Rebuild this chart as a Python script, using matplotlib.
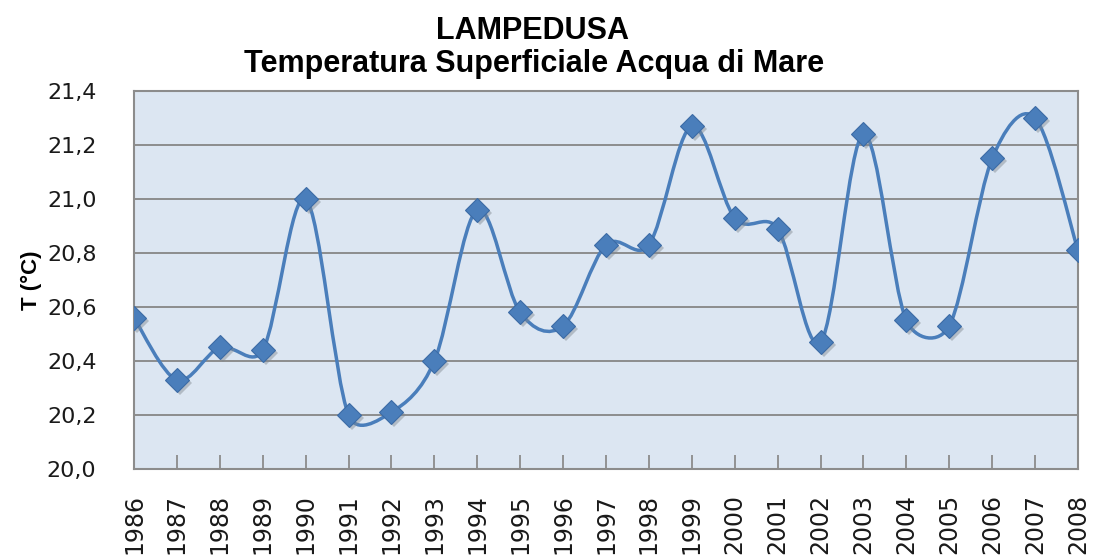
import matplotlib
matplotlib.use("Agg")
import matplotlib.pyplot as plt
from matplotlib.path import Path
from matplotlib.patches import PathPatch
import numpy as np

years = [str(y) for y in range(1986, 2009)]
temps = [20.56, 20.33, 20.45, 20.44, 21.00, 20.20, 20.21, 20.40, 20.96, 20.58,
         20.53, 20.83, 20.83, 21.27, 20.93, 20.89, 20.47, 21.24, 20.55, 20.53,
         21.15, 21.30, 20.81]
yticks = [20.0, 20.2, 20.4, 20.6, 20.8, 21.0, 21.2, 21.4]
ytick_labels = ["20,0", "20,2", "20,4", "20,6", "20,8", "21,0", "21,2", "21,4"]

W, H = 1094, 559
L, R, T, B = 134, 1078, 91, 469
fig = plt.figure(figsize=(W/100, H/100), dpi=100)
ax = fig.add_axes([L/W, 1-B/H, (R-L)/W, (B-T)/H])
ax.set_facecolor("#DCE6F2")

ymin, ymax = 20.0, 21.4
x = np.arange(len(temps), dtype=float)
y = np.array(temps)
n = len(x)

# Excel-like smoothing: Bezier with control arms of 1/6, capped at half segment (pixel space)
sx = (R - L) / (n - 1)
sy = (B - T) / (ymax - ymin)
P = np.column_stack([x * sx, (y - ymin) * sy])

def ctrl(pa, pb, seg):
    v = pb - pa
    d = np.hypot(*v)
    if d == 0:
        return np.zeros(2)
    if d / 6.0 < seg / 2.0:
        return v / 6.0
    return v * (seg / 2.0) / d

verts = [tuple(P[0])]
codes = [Path.MOVETO]
for i in range(n - 1):
    p0 = P[max(i-1, 0)]
    p1 = P[i]
    p2 = P[i+1]
    p3 = P[min(i+2, n-1)]
    seg = np.hypot(*(p2 - p1))
    c1 = p1 + ctrl(p0, p2, seg)
    c2 = p2 - ctrl(p1, p3, seg)
    verts += [tuple(c1), tuple(c2), tuple(p2)]
    codes += [Path.CURVE4] * 3
verts = [(vx / sx, vy / sy + ymin) for vx, vy in verts]
ax.add_patch(PathPatch(Path(verts, codes), facecolor="none",
                       edgecolor="#4A7EBB", lw=2.5, zorder=3))

# marker shadow
ax.plot(x + 0.07, y - 0.011, linestyle="none", marker="D", markersize=12,
        color="#7f8790", alpha=0.45, zorder=3.5, markeredgewidth=0)
ax.plot(x, y, linestyle="none", marker="D", markersize=12,
        markerfacecolor="#4A7EBB", markeredgecolor="#3C6BA5",
        markeredgewidth=0.8, zorder=4)

ax.set_xlim(0, n - 1)
ax.set_ylim(ymin, ymax)
ax.set_yticks(yticks)
ax.set_yticklabels(ytick_labels)
ax.set_xticks(x)
ax.set_xticklabels(years, rotation=90)
ax.yaxis.grid(True, color="#868686", lw=1.3)
ax.set_axisbelow(True)
for s in ax.spines.values():
    s.set_color("#8C8C8C")
    s.set_linewidth(1.5)
ax.tick_params(axis="y", length=0, pad=27, labelsize=16, labelcolor="#1a1a1a")
ax.tick_params(axis="x", direction="in", length=10, width=1.3, color="#8C8C8C",
               pad=18, labelsize=17, labelcolor="#1a1a1a")
for lab in ax.get_xticklabels() + ax.get_yticklabels():
    lab.set_family("DejaVu Sans")

ax.set_ylabel("T (°C)", fontsize=16, fontweight="bold", family="Liberation Sans")
ax.yaxis.set_label_coords(-0.097, 0.5)

fig.text(532/W, 1-31/H, "LAMPEDUSA",
         ha="center", va="center", fontsize=22, fontweight="bold",
         family="Liberation Sans")
fig.text(534/W, 1-64/H, "Temperatura Superficiale Acqua di Mare",
         ha="center", va="center", fontsize=22, fontweight="bold",
         family="Liberation Sans")

fig.savefig("out.png", dpi=100)
